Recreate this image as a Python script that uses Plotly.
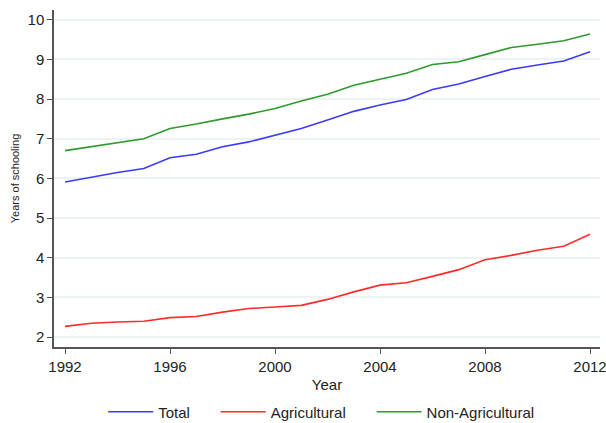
import plotly.graph_objects as go

years = list(range(1992, 2013))
total = [5.91, 6.03, 6.15, 6.25, 6.52, 6.61, 6.80, 6.92, 7.09, 7.26, 7.47, 7.69, 7.85, 7.99,
         8.24, 8.38, 8.57, 8.75, 8.86, 8.96, 9.19]
agricultural = [2.27, 2.35, 2.38, 2.40, 2.49, 2.52, 2.63, 2.72, 2.76, 2.80, 2.95, 3.14, 3.31, 3.37,
                3.53, 3.70, 3.95, 4.06, 4.19, 4.29, 4.59]
non_agricultural = [6.70, 6.80, 6.90, 7.00, 7.26, 7.37, 7.50, 7.62, 7.76, 7.95, 8.12, 8.35, 8.50, 8.65,
                    8.87, 8.94, 9.12, 9.30, 9.38, 9.47, 9.64]
x_ticks = [1992, 1996, 2000, 2004, 2008, 2012]
y_ticks = [2, 3, 4, 5, 6, 7, 8, 9, 10]
pad = "\u00a0" * 5

font = "Liberation Sans, Arial, Helvetica, sans-serif"
fig = go.Figure()
fig.add_trace(go.Scatter(x=years, y=total, mode="lines", name="Total" + pad,
                         line=dict(color="#3a3aff", width=1.6)))
fig.add_trace(go.Scatter(x=years, y=agricultural, mode="lines", name="Agricultural" + pad,
                         line=dict(color="#ff2a2a", width=1.6)))
fig.add_trace(go.Scatter(x=years, y=non_agricultural, mode="lines", name="Non-Agricultural",
                         line=dict(color="#2e9a2e", width=1.6)))

fig.update_layout(
    width=606, height=423,
    margin=dict(l=54, r=6, t=10, b=76, autoexpand=False),
    paper_bgcolor="white", plot_bgcolor="white",
    font=dict(family=font, size=15, color="#222"),
    showlegend=True,
    legend=dict(orientation="h", xref="container", x=0.53, xanchor="center",
                yref="container", y=0.026, yanchor="middle",
                font=dict(size=15), itemwidth=45, traceorder="normal"),
)
fig.update_xaxes(range=[1991.58, 2012.38], tickvals=x_ticks, ticks="outside", ticklen=5,
                 tickcolor="#555", tickwidth=1.2, showline=True, linecolor="#555", linewidth=1.5,
                 showgrid=False, zeroline=False, ticklabeloverflow="allow",
                 title=dict(text="Year", font=dict(size=15), standoff=6))
fig.update_yaxes(range=[1.75, 10.245], tickvals=y_ticks, ticks="outside", ticklen=5,
                 tickcolor="#555", tickwidth=1.2, showline=True, linecolor="#555", linewidth=1.5,
                 showgrid=True, gridcolor="#edf3f4", gridwidth=1.5, zeroline=False,
                 title=dict(text="Years of schooling", font=dict(size=11), standoff=6))

fig.write_html("out.html")
